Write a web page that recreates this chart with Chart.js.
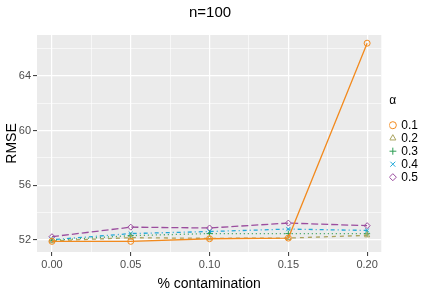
<!DOCTYPE html>
<html>
<head>
<meta charset="utf-8">
<script src="https://cdn.jsdelivr.net/npm/chart.js@4/dist/chart.umd.min.js"></script>
<style>
  html, body { margin: 0; padding: 0; background: #fff; }
  #wrap { width: 436px; height: 300px; }
</style>
</head>
<body>
<div id="wrap"><canvas id="myChart" width="436" height="300"></canvas></div>
<script>
const contamination = [0, 0.05, 0.10, 0.15, 0.20];
const alphaLabels = ['0.1', '0.2', '0.3', '0.4', '0.5'];
const rmse_a01 = [51.88, 51.88, 52.07, 52.12, 66.4];
const rmse_a02 = [51.92, 52.15, 52.10, 52.12, 52.32];
const rmse_a03 = [51.95, 52.30, 52.45, 52.45, 52.44];
const rmse_a04 = [52.00, 52.45, 52.60, 52.78, 52.68];
const rmse_a05 = [52.22, 52.92, 52.86, 53.22, 53.03];
const yTicks = [52, 56, 60, 64];
const xTicks = [0, 0.05, 0.10, 0.15, 0.20];

const FONT = "'Liberation Sans Narrow', 'Liberation Sans', Arial, sans-serif";
const colors = ['#F28A1E', '#A9A35E', '#2E9E55', '#22A8D8', '#9B4D9E'];
const dashes = [[], [4, 4], [1, 3], [1, 3, 4, 3], [7, 3]];
const shapes = ['circle', 'triangle', 'cross', 'crossRot', 'rectRot'];
const series = [rmse_a01, rmse_a02, rmse_a03, rmse_a04, rmse_a05];

const panelBg = {
  id: 'panelBg',
  beforeDraw(chart) {
    const a = chart.chartArea, c = chart.ctx;
    c.save();
    c.fillStyle = '#EBEBEB';
    c.fillRect(a.left, a.top, a.right - a.left, a.bottom - a.top);
    c.restore();
  }
};

// nudge the legend box to where ggplot puts it
const legendShift = {
  id: 'legendShift',
  afterLayout(chart) {
    const lg = chart.legend;
    lg.left += 8; lg.right += 8;
    lg.top -= 7; lg.bottom -= 7;
  }
};

const isMajorX = v => xTicks.some(t => Math.abs(t - v) < 1e-6);
const isMajorY = v => yTicks.some(t => Math.abs(t - v) < 1e-6);

const ctx = document.getElementById('myChart').getContext('2d');
const myChart = new Chart(ctx, {
  type: 'line',
  data: {
    datasets: series.map((s, i) => ({
      label: alphaLabels[i],
      data: s.map((y, j) => ({ x: contamination[j], y: y })),
      borderColor: colors[i],
      backgroundColor: 'rgba(0,0,0,0)',
      borderWidth: 1.3,
      borderDash: dashes[i],
      pointStyle: shapes[i],
      pointRadius: 3,
      pointBorderWidth: 1,
      pointBorderColor: colors[i],
      pointBackgroundColor: 'rgba(0,0,0,0)',
      tension: 0,
      fill: false
    }))
  },
  options: {
    responsive: false,
    animation: false,
    layout: { padding: { left: 0, right: 16, top: 0, bottom: 7 } },
    plugins: {
      title: {
        display: true,
        text: 'n=100',
        color: '#000',
        font: { family: FONT, size: 15, weight: 'normal' },
        padding: { top: 4, bottom: 13 }
      },
      legend: {
        position: 'right',
        align: 'center',
        title: {
          display: true,
          text: 'α',
          position: 'start',
          color: '#000',
          font: { family: FONT, size: 12 },
          padding: { top: 0, bottom: 9 }
        },
        labels: {
          usePointStyle: true,
          boxWidth: 5,
          boxHeight: 5,
          padding: 1,
          color: '#000',
          font: { family: FONT, size: 12 }
        }
      },
      tooltip: { enabled: false }
    },
    scales: {
      x: {
        type: 'linear',
        min: -0.0095,
        max: 0.209,
        afterFit(scale) { scale.height = 41; },
        border: { display: false },
        grid: {
          color: '#FFFFFF',
          lineWidth: c => isMajorX(c.tick.value) ? 1.2 : 0.6,
          tickColor: c => isMajorX(c.tick.value) ? '#333333' : 'rgba(0,0,0,0)',
          tickLength: 4,
          tickWidth: 1
        },
        ticks: {
          stepSize: 0.025,
          includeBounds: false,
          autoSkip: false,
          maxRotation: 0,
          padding: 2,
          color: '#4D4D4D',
          font: { family: FONT, size: 11 },
          callback: v => isMajorX(v) ? v.toFixed(2) : ''
        },
        title: {
          display: true,
          text: '% contamination',
          color: '#000',
          font: { family: FONT, size: 14 },
          padding: { top: 2, bottom: 0 }
        }
      },
      y: {
        min: 51.1,
        max: 67.0,
        afterFit(scale) { scale.width = 37; },
        border: { display: false },
        grid: {
          color: '#FFFFFF',
          lineWidth: c => isMajorY(c.tick.value) ? 1.2 : 0.6,
          tickColor: c => isMajorY(c.tick.value) ? '#333333' : 'rgba(0,0,0,0)',
          tickLength: 4,
          tickWidth: 1
        },
        ticks: {
          stepSize: 2,
          includeBounds: false,
          autoSkip: false,
          padding: 2,
          color: '#4D4D4D',
          font: { family: FONT, size: 11 },
          callback: v => isMajorY(v) ? String(v) : ''
        },
        title: {
          display: true,
          text: 'RMSE',
          color: '#000',
          font: { family: FONT, size: 14 },
          padding: { top: 4, bottom: 0 }
        }
      }
    }
  },
  plugins: [panelBg, legendShift]
});
</script>
</body>
</html>
